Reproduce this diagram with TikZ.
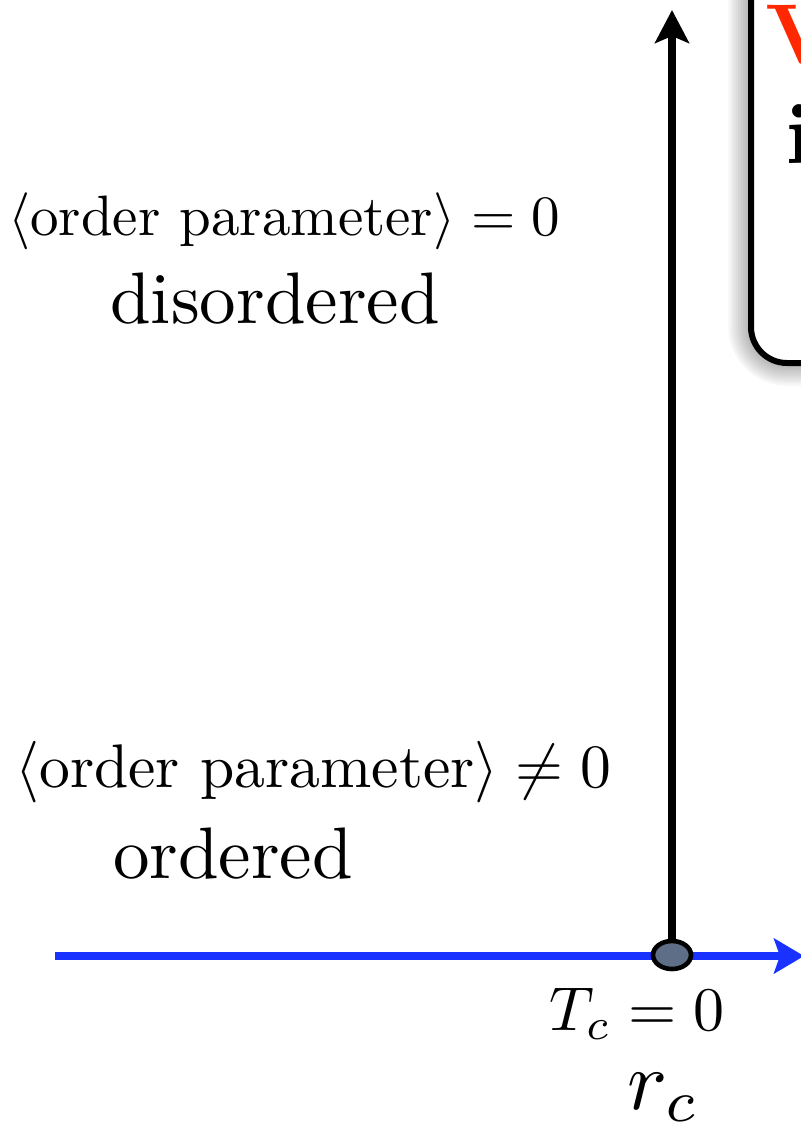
\documentclass[tikz,border=0pt]{standalone}
\usepackage{amsmath,amssymb,graphicx}
\usetikzlibrary{arrows.meta,shapes.geometric}
\definecolor{axisblue}{RGB}{25,50,255}
\definecolor{dotfill}{RGB}{95,110,135}
\definecolor{boxred}{RGB}{255,40,0}
\tikzset{
  lbl/.style={anchor=base,inner sep=0pt},
}
\newcommand{\phsize}[1]{\scalebox{3.65}{#1}}
\begin{document}
\begin{tikzpicture}[x=0.5pt,y=-0.5pt]
\useasboundingbox (0,0) rectangle (801,1125);
\clip (0,0) rectangle (801,1125);
% soft shadow of the box
\foreach \k in {1,...,9}{
  \fill[black,opacity=0.035,rounded corners={18pt+\k*1.25pt}]
    ({750-\k*2.4},-60) rectangle (1100,{364+\k*2.4});
}
% box at the top right
\node[draw=black,line width=3pt,rounded corners=18pt,fill=white,
      minimum width=150pt,minimum height=210pt,anchor=north west] (box) at (748,-60) {};
\node[anchor=base west,inner sep=0pt,text=boxred] (v) at (765,63) {\scalebox{4.25}{\bfseries V}};
\node[anchor=base west,inner sep=0pt] (i) at (785,163) {\scalebox{4.3}{\bfseries i}};
% axes
\coordinate (left) at (55,956);
\coordinate (right) at (804,956);
\coordinate (top) at (672,10);
\draw[axisblue,line width=4pt,-{Stealth[length=15pt,width=17.5pt,inset=3pt]}] (left) -- (right);
\node[ellipse,draw=black,line width=2.3pt,fill=dotfill,minimum width=19pt,minimum height=14pt,inner sep=0pt] (dot) at (672,955) {};
\draw[black,line width=4.3pt,-{Stealth[length=16.5pt,width=17pt,inset=3.5pt]}] (dot.north) -- (top);
% labels
\node[lbl] (op1) at (284,235) {\scalebox{2.85}{$\langle\text{order parameter}\rangle = 0$}};
\node[lbl] (dis) at (275,323) {\phsize{disordered}};
\node[lbl] (op2) at (313.5,787) {\scalebox{3.08}{$\langle\text{order parameter}\rangle \neq 0$}};
\node[lbl] (ord) at (233,878) {\phsize{ordered}};
\node[lbl] (tc) at (637.5,1030) {\scalebox{3.1}{$T_c = 0$}};
\node[lbl] (rc) at (664,1109) {\scalebox{4.2}{$r_c$}};
\end{tikzpicture}
\end{document}
